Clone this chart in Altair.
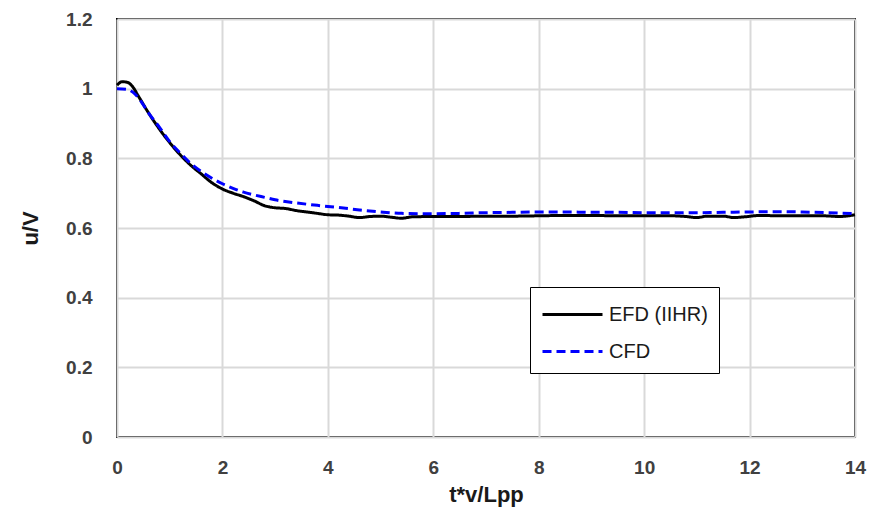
import altair as alt
import pandas as pd

efd_x = [0, 0.1, 0.2, 0.3, 0.4, 0.6, 0.8, 1.0, 1.2, 1.4, 1.6, 1.8, 2.0, 2.2, 2.4, 2.6, 2.8, 3.0,
         3.2, 3.4, 3.6, 3.8, 4.0, 4.2, 4.4, 4.6, 4.8, 5.0, 5.2, 5.4, 5.6, 6.0, 6.5, 7.0, 7.5, 8.0,
         8.5, 9.0, 9.5, 10.0, 10.5, 10.8, 11.0, 11.2, 11.5, 11.7, 11.9, 12.2, 12.6, 13.0, 13.4, 13.7, 14.0]
efd_y = [1.01, 1.02, 1.018, 1.005, 0.98, 0.93, 0.885, 0.845, 0.81, 0.78, 0.755, 0.73, 0.712, 0.70,
         0.69, 0.678, 0.664, 0.658, 0.656, 0.65, 0.646, 0.642, 0.638, 0.637, 0.634, 0.630, 0.633,
         0.634, 0.631, 0.628, 0.632, 0.633, 0.633, 0.634, 0.634, 0.635, 0.636, 0.636, 0.635, 0.635,
         0.635, 0.633, 0.630, 0.634, 0.634, 0.630, 0.632, 0.636, 0.635, 0.635, 0.635, 0.633, 0.638]

cfd_x = [0, 0.2, 0.3, 0.4, 0.6, 0.8, 1.0, 1.2, 1.4, 1.6, 1.8, 2.0, 2.2, 2.4, 2.6, 2.8, 3.0, 3.4,
         3.8, 4.2, 4.6, 5.0, 5.4, 6.0, 6.5, 7.0, 7.5, 8.0, 8.5, 9.0, 9.5, 10.0, 10.5, 11.0, 11.5,
         12.0, 12.5, 13.0, 13.5, 14.0]
cfd_y = [1.0, 0.998, 0.99, 0.975, 0.93, 0.89, 0.848, 0.815, 0.785, 0.762, 0.743, 0.727, 0.714,
         0.703, 0.695, 0.688, 0.681, 0.672, 0.665, 0.659, 0.652, 0.646, 0.642, 0.641, 0.642, 0.644,
         0.645, 0.646, 0.646, 0.645, 0.645, 0.644, 0.644, 0.644, 0.645, 0.646, 0.647, 0.646, 0.644,
         0.641]

series_names = ["EFD (IIHR)", "CFD"]
series_colors = ["#000000", "#0000ff"]

df = pd.concat([
    pd.DataFrame({"x": efd_x, "y": efd_y, "s": series_names[0], "o": 0}),
    pd.DataFrame({"x": cfd_x, "y": cfd_y, "s": series_names[1], "o": 1}),
])

font = "Liberation Sans, Arial, sans-serif"

chart = alt.Chart(df).mark_line(strokeWidth=3, interpolate="monotone").encode(
    x=alt.X("x:Q", scale=alt.Scale(domain=[0, 14], nice=False),
            axis=alt.Axis(values=[0, 2, 4, 6, 8, 10, 12, 14], title="t*v/Lpp",
                          titleX=369, titleY=57, titleBaseline="middle", titleAlign="center",
                          labelPadding=21, labelFlush=False)),
    y=alt.Y("y:Q", scale=alt.Scale(domain=[0, 1.2], nice=False),
            axis=alt.Axis(values=[0, 0.2, 0.4, 0.6, 0.8, 1.0, 1.2], title="u/V",
                          labelExpr="format(datum.value, '~g')",
                          titleX=-87, titleY=209, titleAngle=-90, titleBaseline="middle",
                          titleAlign="center", labelPadding=25, labelFlush=False)),
    color=alt.Color("s:N", scale=alt.Scale(domain=series_names, range=series_colors),
                    sort=series_names,
                    legend=alt.Legend(title=None, orient="none", legendX=413, legendY=268,
                                      symbolType="M-2,0H2", symbolSize=900,
                                      symbolStrokeWidth=3, labelOffset=20, rowPadding=10,
                                      labelFontSize=20, labelFont=font, labelColor="#1a1a1a",
                                      strokeColor="black", fillColor="white", padding=11,
                                      symbolOffset=15)),
    strokeDash=alt.StrokeDash("s:N", scale=alt.Scale(domain=series_names, range=[[1, 0], [9, 5]]),
                              sort=series_names, legend=None),
    order="o:Q",
).properties(
    width=738, height=418,
    padding={"left": 117, "top": 19, "right": 22, "bottom": 78},
    autosize=alt.AutoSizeParams(type="none"),
    background="white",
).configure_view(
    stroke="black", strokeWidth=2
).configure_axis(
    grid=True, gridColor="#d9d9d9", gridWidth=2, domain=False, ticks=False,
    labelFont=font, labelFontWeight="bold", labelFontSize=19, labelColor="#404040",
    titleFont=font, titleFontWeight="bold", titleFontSize=22, titleColor="#1a1a1a",
)

chart.save("out.html", embed_options={"renderer": "svg", "actions": False})
